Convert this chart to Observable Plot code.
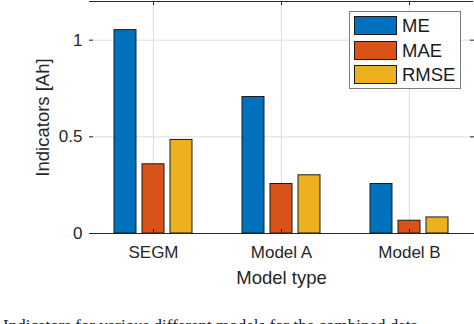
<!DOCTYPE html>
<html><head><meta charset="utf-8">
<script src="https://cdn.jsdelivr.net/npm/d3@7"></script>
<script src="https://cdn.jsdelivr.net/npm/@observablehq/plot@0.6"></script>
<style>
html,body{margin:0;padding:0;background:#fff;overflow:hidden;width:474px;height:324px;}
#wrap{position:relative;width:474px;height:324px;overflow:hidden;}
#chart svg{display:block;}
[aria-label="fx-axis label"],[aria-label="y-axis label"]{font-size:18.5px;}
.legend{position:absolute;left:349px;top:11px;width:112px;height:78px;border:1px solid #7a7a7a;background:#fff;box-sizing:border-box;font:18.5px "Liberation Sans",Arial,sans-serif;color:#1a1a1a;}
.legend .row{position:absolute;left:0;height:19px;}
.legend .sw{position:absolute;left:4px;top:0;width:43px;height:19px;box-sizing:border-box;border:1px solid #1a1a1a;}
.legend .lb{position:absolute;left:52px;top:-1px;line-height:21px;white-space:nowrap;}
.caption{position:absolute;left:3px;top:316px;font:17px "Liberation Serif","Times New Roman",serif;color:#222;white-space:nowrap;}
</style>
</head><body>
<div id="wrap"><div id="chart"></div></div>
<script>
const models = ["SEGM", "Model A", "Model B"];
const series = ["ME", "MAE", "RMSE"];
const ME = [1.052, 0.706, 0.256];
const MAE = [0.358, 0.256, 0.066];
const RMSE = [0.484, 0.301, 0.083];
const colors = ["#0072BD", "#D95319", "#EDB120"];
const yTicks = [0, 0.5, 1];
const yMax = 1.2;

const valuesBySeries = {ME, MAE, RMSE};
const data = [];
models.forEach((m, i) => series.forEach(s => data.push({model: m, series: s, value: valuesBySeries[s][i]})));

const dark = "#262626";
const gridColor = "#dedede";

const chart = Plot.plot({
  width: 474,
  height: 300,
  marginLeft: 89,
  marginRight: 1,
  marginTop: 1,
  marginBottom: 67,
  style: {fontFamily: "'Liberation Sans', Arial, sans-serif", fontSize: "17px", color: dark, background: "#fff"},
  fx: {domain: models, padding: 0, tickSize: 0, tickPadding: 12, label: "Model type", labelAnchor: "center", labelOffset: 50},
  x: {domain: series, paddingInner: 0.2, paddingOuter: 0.835, axis: null},
  y: {domain: [0, yMax]},
  color: {domain: series, range: colors},
  marks: [
    Plot.gridY(yTicks, {stroke: gridColor, strokeOpacity: 1}),
    Plot.ruleX(["MAE"], {stroke: gridColor, strokeOpacity: 1}),
    Plot.barY(data, {fx: "model", x: "series", y: "value", fill: "series", stroke: "#1a1a1a", strokeWidth: 1}),
    Plot.ruleX(["MAE"], {stroke: dark, insetTop: 228}),
    Plot.ruleX(["MAE"], {stroke: dark, insetBottom: 228}),
    Plot.ruleY([0], {stroke: dark}),
    Plot.ruleY([yMax], {stroke: dark}),
    Plot.axisY(yTicks, {anchor: "left", tickSize: -4, tickPadding: 11, tickFormat: d => String(d), line: true, stroke: dark,
      label: "Indicators [Ah]", labelAnchor: "center", labelOffset: 54, labelArrow: "none"}),
    Plot.axisY(yTicks, {anchor: "right", tickSize: -4, tickFormat: () => "", line: true, stroke: dark, label: null})
  ]
});
document.getElementById("chart").appendChild(chart);

// legend
const wrap = document.getElementById("wrap");
const legend = document.createElement("div");
legend.className = "legend";
series.forEach((s, i) => {
  const row = document.createElement("div");
  row.className = "row";
  row.style.top = (4 + i * 24.7) + "px";
  const sw = document.createElement("div");
  sw.className = "sw";
  sw.style.background = colors[i];
  const lb = document.createElement("div");
  lb.className = "lb";
  lb.textContent = s;
  row.appendChild(sw); row.appendChild(lb);
  legend.appendChild(row);
});
wrap.appendChild(legend);

const cap = document.createElement("div");
cap.className = "caption";
cap.textContent = "Indicators for various different models for the combined data.";
wrap.appendChild(cap);
</script>
</body></html>
